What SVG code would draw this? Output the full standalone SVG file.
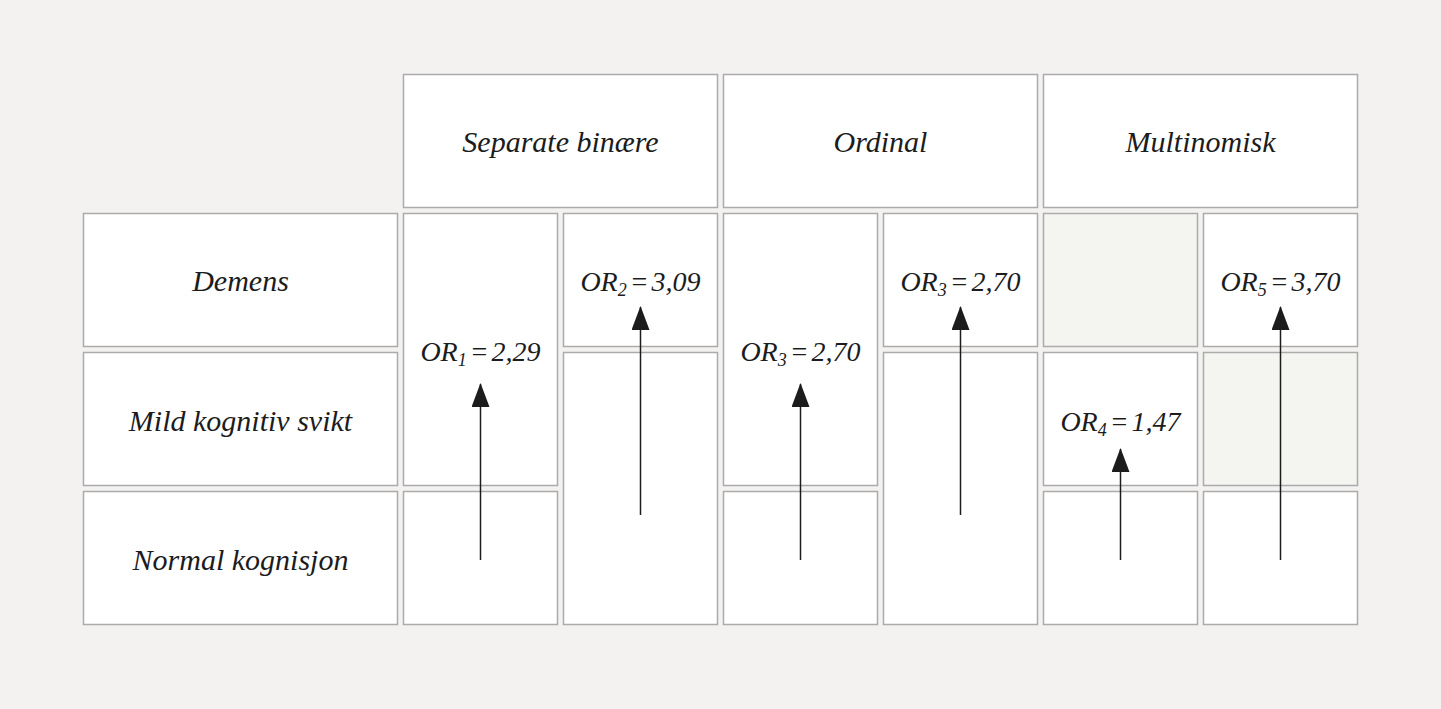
<svg xmlns="http://www.w3.org/2000/svg" width="1441" height="709" viewBox="0 0 1441 709">
<defs>
<style>
.bg{fill:#f3f2f0}
.c{fill:#ffffff;stroke:#ababab;stroke-width:1.5}
.s{fill:#f4f5f1;stroke:#ababab;stroke-width:1.5}
.t{font-family:"Liberation Serif","DejaVu Serif",serif;font-style:italic;font-size:30px;fill:#1c1c1c;text-anchor:middle}
.o{font-size:28px;word-spacing:-4px}
.sub{font-size:18px}
.a{stroke:#1c1c1c;stroke-width:1.5;fill:none;marker-end:url(#ah)}
</style>
<marker id="ah" viewBox="0 0 24 18" refX="23" refY="9" markerWidth="24" markerHeight="18" markerUnits="userSpaceOnUse" orient="auto">
<path d="M0,0 L24,9 L0,18 Z" fill="#1c1c1c"/>
</marker>
</defs>
<rect class="bg" x="0" y="0" width="1441" height="709"/>
<g id="header-binaere"><rect class="c" x="403.5" y="74.5" width="314" height="133"/><text class="t" x="560.5" y="152">Separate binære</text></g>
<g id="header-ordinal"><rect class="c" x="723.5" y="74.5" width="314" height="133"/><text class="t" x="880.5" y="152">Ordinal</text></g>
<g id="header-multinomisk"><rect class="c" x="1043.5" y="74.5" width="314" height="133"/><text class="t" x="1200.5" y="152">Multinomisk</text></g>
<g id="label-demens"><rect class="c" x="83.5" y="213.5" width="314" height="133"/><text class="t" x="240.5" y="291">Demens</text></g>
<g id="label-mild"><rect class="c" x="83.5" y="352.5" width="314" height="133"/><text class="t" x="240.5" y="431">Mild kognitiv svikt</text></g>
<g id="label-normal"><rect class="c" x="83.5" y="491.5" width="314" height="133"/><text class="t" x="240.5" y="570">Normal kognisjon</text></g>
<g id="b1-top"><rect class="c" x="403.5" y="213.5" width="154" height="272"/><text class="t o" x="480.5" y="361">OR<tspan class="sub" dy="5">1</tspan><tspan dy="-5"> = 2,29</tspan></text></g>
<g id="b1-bottom"><rect class="c" x="403.5" y="491.5" width="154" height="133"/></g>
<g id="b2-top"><rect class="c" x="563.5" y="213.5" width="154" height="133"/><text class="t o" x="640.5" y="291">OR<tspan class="sub" dy="5">2</tspan><tspan dy="-5"> = 3,09</tspan></text></g>
<g id="b2-bottom"><rect class="c" x="563.5" y="352.5" width="154" height="272"/></g>
<g id="o1-top"><rect class="c" x="723.5" y="213.5" width="154" height="272"/><text class="t o" x="800.5" y="361">OR<tspan class="sub" dy="5">3</tspan><tspan dy="-5"> = 2,70</tspan></text></g>
<g id="o1-bottom"><rect class="c" x="723.5" y="491.5" width="154" height="133"/></g>
<g id="o2-top"><rect class="c" x="883.5" y="213.5" width="154" height="133"/><text class="t o" x="960.5" y="291">OR<tspan class="sub" dy="5">3</tspan><tspan dy="-5"> = 2,70</tspan></text></g>
<g id="o2-bottom"><rect class="c" x="883.5" y="352.5" width="154" height="272"/></g>
<g id="m1-top"><rect class="s" x="1043.5" y="213.5" width="154" height="133"/></g>
<g id="m1-mid"><rect class="c" x="1043.5" y="352.5" width="154" height="133"/><text class="t o" x="1120.5" y="431">OR<tspan class="sub" dy="5">4</tspan><tspan dy="-5"> = 1,47</tspan></text></g>
<g id="m1-bottom"><rect class="c" x="1043.5" y="491.5" width="154" height="133"/></g>
<g id="m2-top"><rect class="c" x="1203.5" y="213.5" width="154" height="133"/><text class="t o" x="1280.5" y="291">OR<tspan class="sub" dy="5">5</tspan><tspan dy="-5"> = 3,70</tspan></text></g>
<g id="m2-mid"><rect class="s" x="1203.5" y="352.5" width="154" height="133"/></g>
<g id="m2-bottom"><rect class="c" x="1203.5" y="491.5" width="154" height="133"/></g>
<g id="connectors">
<line class="a" x1="480.5" y1="560" x2="480.5" y2="384"/>
<line class="a" x1="640.5" y1="515" x2="640.5" y2="307"/>
<line class="a" x1="800.5" y1="560" x2="800.5" y2="384"/>
<line class="a" x1="960.5" y1="515" x2="960.5" y2="307"/>
<line class="a" x1="1120.5" y1="560" x2="1120.5" y2="449"/>
<line class="a" x1="1280.5" y1="560" x2="1280.5" y2="307"/>
</g>
</svg>
